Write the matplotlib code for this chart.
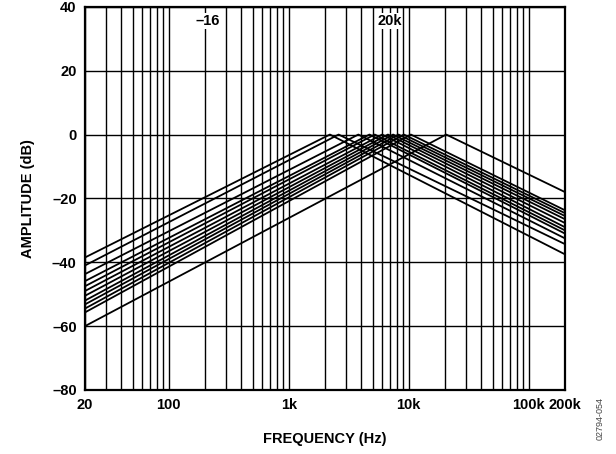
import matplotlib.pyplot as plt
import numpy as np
from matplotlib.ticker import LogLocator, NullFormatter, FixedLocator

plt.rcParams['font.family'] = ['Liberation Sans', 'DejaVu Sans']

# each response: amplitude at 20 Hz, peak frequency (0 dB), amplitude at 200 kHz
f_lo = 20
f_hi = 200000
peak_hz = [2200, 2600, 3800, 4700, 5200, 6000, 6700, 7400, 8200, 9100, 10400, 20500]
left_db = [-38.5, -41, -43.7, -45.9, -47.5, -49, -50.5, -52, -53.2, -54.5, -55.7, -60]
right_db = [-37.5, -34.3, -32.5, -31, -30, -29, -27.7, -26.5, -25.5, -24.6, -23.7, -18]

xtick_vals = [20, 100, 1000, 10000, 100000, 200000]
xtick_labels = ['20', '100', '1k', '10k', '100k', '200k']
ytick_vals = [-80, -60, -40, -20, 0, 20, 40]
ytick_labels = ['\u201380', '\u201360', '\u201340', '\u201320', '0', '20', '40']

fig = plt.figure(figsize=(6.16, 4.54), dpi=100)
ax = fig.add_axes([0.138, 0.141, 0.779, 0.844])

for fp, l, r in zip(peak_hz, left_db, right_db):
    ax.plot([f_lo, fp, f_hi], [l, 0, r], color='black', lw=1.3, zorder=3)

ax.set_xscale('log')
ax.set_xlim(f_lo, f_hi)
ax.set_ylim(-80, 40)

ax.xaxis.set_major_locator(FixedLocator(xtick_vals))
ax.set_xticklabels(xtick_labels)
ax.xaxis.set_minor_locator(LogLocator(base=10, subs=np.arange(1, 10)))
ax.xaxis.set_minor_formatter(NullFormatter())
ax.set_yticks(ytick_vals)
ax.set_yticklabels(ytick_labels)

ax.grid(True, which='both', axis='x', color='black', lw=1.0, zorder=1)
ax.grid(True, which='major', axis='y', color='black', lw=1.0, zorder=1)
ax.tick_params(which='both', length=0, labelsize=10.5, pad=6)
for lab in ax.get_xticklabels() + ax.get_yticklabels():
    lab.set_fontweight('bold')
for s in ax.spines.values():
    s.set_linewidth(1.6)

ax.set_xlabel('FREQUENCY (Hz)', fontsize=10.5, fontweight='bold', labelpad=14)
ax.set_ylabel('AMPLITUDE (dB)', fontsize=10.5, fontweight='bold', labelpad=12)

ax.text(210, 35.5, '\u201316', fontsize=10.5, fontweight='bold', ha='center', va='center',
        bbox=dict(facecolor='white', edgecolor='none', pad=0.5), zorder=4)
ax.text(6900, 35.5, '20k', fontsize=10.5, fontweight='bold', ha='center', va='center',
        bbox=dict(facecolor='white', edgecolor='none', pad=0.5), zorder=4)

fig.text(0.975, 0.078, '02794-054', rotation=90, fontsize=6.5, color='#444444',
         ha='center', va='center')

plt.savefig('out.png', dpi=100)
